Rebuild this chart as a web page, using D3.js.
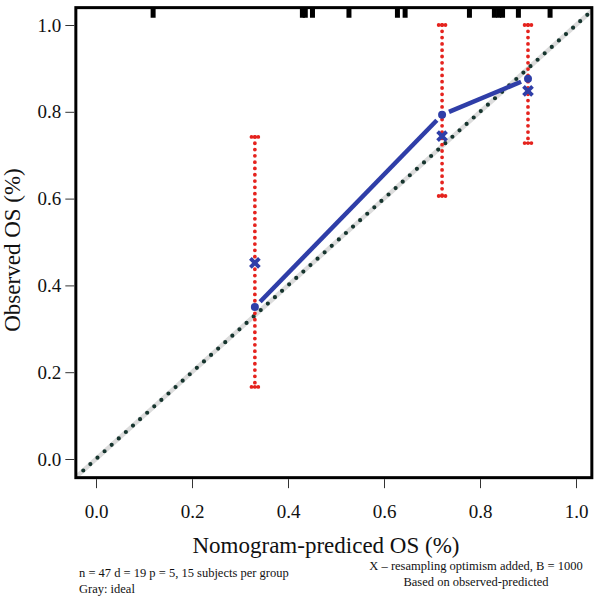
<!DOCTYPE html>
<html>
<head>
<meta charset="utf-8">
<script src="https://cdn.jsdelivr.net/npm/d3@7/dist/d3.min.js"></script>
<style>
  html, body { margin: 0; padding: 0; background: #fff; }
  svg { display: block; }
  text { font-family: "Liberation Serif", "DejaVu Serif", serif; fill: #111; }
</style>
</head>
<body>
<svg id="chart" width="600" height="596"></svg>
<script>
// ---- data ----
const xTicks = [0.0, 0.2, 0.4, 0.6, 0.8, 1.0];
const yTicks = [0.0, 0.2, 0.4, 0.6, 0.8, 1.0];
const predicted = [0.331, 0.721, 0.900];          // group mean predicted
const observed = [0.350, 0.793, 0.876];           // apparent observed (circles)
const corrected = [0.452, 0.744, 0.848];          // bias-corrected (X)
const lower = [0.166, 0.606, 0.728];
const upper = [0.742, 1.000, 1.000];
const rugValues = [0.119, 0.430, 0.436, 0.451, 0.527, 0.628, 0.644, 0.778, 0.830, 0.839, 0.847, 0.880, 0.946];
const xLabel = "Nomogram-prediced OS (%)";
const yLabel = "Observed OS (%)";
const noteLeft = ["n = 47 d = 19 p = 5, 15 subjects per group", "Gray: ideal"];
const noteRight = ["X \u2013 resampling optimism added, B = 1000", "Based on observed-predicted"];

// ---- layout ----
const svg = d3.select("#chart");
const x = d3.scaleLinear().domain([0, 1]).range([96, 576]);
const y = d3.scaleLinear().domain([0, 1]).range([459, 25]);
const xMin = -0.042, xMax = 1.033, yMin = -0.043, yMax = 1.04;
const box = { x0: x(xMin), x1: x(xMax), y0: y(yMax), y1: y(yMin) };

const red = "#e5231e", blue = "#2f3ea8", dark = "#16352e";

svg.append("clipPath").attr("id", "clip").append("rect")
  .attr("x", box.x0).attr("y", box.y0).attr("width", box.x1 - box.x0).attr("height", box.y1 - box.y0);

const plot = svg.append("g").attr("clip-path", "url(#clip)");

// ideal line (gray) + dark dots
plot.append("line")
  .attr("x1", x(xMin)).attr("y1", y(xMin)).attr("x2", x(xMax)).attr("y2", y(xMax))
  .attr("stroke", "#dcdcdc").attr("stroke-width", 4.5);
plot.append("line")
  .attr("x1", x(-0.0265)).attr("y1", y(-0.0265)).attr("x2", x(xMax)).attr("y2", y(xMax))
  .attr("stroke", dark).attr("stroke-width", 4.2).attr("stroke-linecap", "round")
  .attr("stroke-dasharray", "0 9.57");

// error bars
const bars = plot.append("g");
predicted.forEach((p, i) => {
  bars.append("line")
    .attr("x1", x(p)).attr("x2", x(p)).attr("y1", y(upper[i])).attr("y2", y(lower[i]))
    .attr("stroke", red).attr("stroke-width", 3.8).attr("stroke-linecap", "round")
    .attr("stroke-dasharray", "0 6.3");
  [upper[i], lower[i]].forEach(v => {
    bars.append("line")
      .attr("x1", x(p) - 3.4).attr("x2", x(p) + 3.4).attr("y1", y(v)).attr("y2", y(v))
      .attr("stroke", red).attr("stroke-width", 3.8).attr("stroke-linecap", "round")
      .attr("stroke-dasharray", "0 3.4");
  });
});

// blue line type "b"
const gap = 7.5;
for (let i = 0; i < predicted.length - 1; i++) {
  const ax = x(predicted[i]), ay = y(observed[i]);
  const bx = x(predicted[i + 1]), by = y(observed[i + 1]);
  const len = Math.hypot(bx - ax, by - ay);
  const ux = (bx - ax) / len, uy = (by - ay) / len;
  plot.append("line")
    .attr("x1", ax + ux * gap).attr("y1", ay + uy * gap)
    .attr("x2", bx - ux * gap).attr("y2", by - uy * gap)
    .attr("stroke", blue).attr("stroke-width", 4.5);
}
plot.selectAll("circle.obs").data(predicted).join("circle")
  .attr("class", "obs")
  .attr("cx", d => x(d)).attr("cy", (d, i) => y(observed[i])).attr("r", 4)
  .attr("fill", blue);
const s = 4.5;
predicted.forEach((p, i) => {
  const cx = x(p), cy = y(corrected[i]);
  plot.append("path")
    .attr("d", `M${cx - s},${cy - s}L${cx + s},${cy + s}M${cx - s},${cy + s}L${cx + s},${cy - s}`)
    .attr("stroke", blue).attr("stroke-width", 3.8).attr("fill", "none");
});

// rug
plot.selectAll("line.rug").data(rugValues).join("line")
  .attr("class", "rug")
  .attr("x1", d => x(d)).attr("x2", d => x(d))
  .attr("y1", box.y0).attr("y2", box.y0 + 10)
  .attr("stroke", "#000").attr("stroke-width", 5);

// box
svg.append("rect")
  .attr("x", box.x0).attr("y", box.y0).attr("width", box.x1 - box.x0).attr("height", box.y1 - box.y0)
  .attr("fill", "none").attr("stroke", "#000").attr("stroke-width", 3);

// axes
const xAxis = d3.axisBottom(x).tickValues(xTicks).tickFormat(d3.format(".1f")).tickSize(9).tickPadding(30);
const gx = svg.append("g").attr("transform", `translate(0,${box.y1 + 1.5})`).call(xAxis);
gx.select(".domain").remove();
gx.selectAll(".tick line").attr("stroke", "#333");
gx.selectAll(".tick text").attr("font-size", 19).attr("font-family", "Liberation Serif").attr("fill", "#111").attr("dy", "0");

const yAxis = d3.axisLeft(y).tickValues(yTicks).tickFormat(d3.format(".1f")).tickSize(9).tickPadding(4);
const gy = svg.append("g").attr("transform", `translate(${box.x0 - 1.5},0)`).call(yAxis);
gy.select(".domain").remove();
gy.selectAll(".tick line").attr("stroke", "#333");
gy.selectAll(".tick text").attr("font-size", 19).attr("font-family", "Liberation Serif").attr("fill", "#111");

// labels
svg.append("text").attr("x", 326).attr("y", 553).attr("text-anchor", "middle")
  .attr("font-size", 23).text(xLabel);
svg.append("text").attr("transform", "translate(20,250) rotate(-90)").attr("text-anchor", "middle")
  .attr("font-size", 23).text(yLabel);

noteLeft.forEach((t, i) => {
  svg.append("text").attr("x", 79).attr("y", 577 + i * 16).attr("font-size", 12.5).text(t);
});
noteRight.forEach((t, i) => {
  svg.append("text").attr("x", 476).attr("y", 570 + i * 16).attr("text-anchor", "middle").attr("font-size", 12.5).text(t);
});
</script>
</body>
</html>
